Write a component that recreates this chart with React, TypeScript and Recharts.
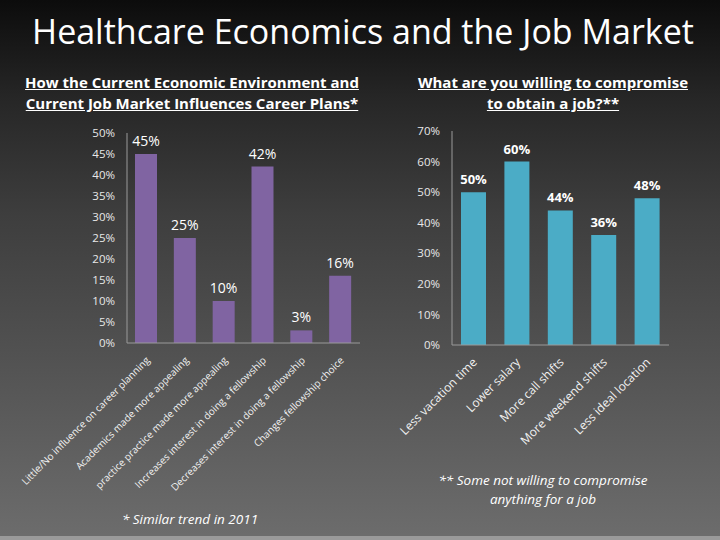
import React from 'react'
import { BarChart, Bar, XAxis, YAxis, LabelList } from 'recharts'

const leftCategories = [
  'Little/No influence on career planning',
  'Academics made more appealing',
  'practice practice made  more appealing',
  'Increases interest in doing a fellowship',
  'Decreases interest in doing a fellowship',
  'Changes fellowship choice',
]
const leftValues = [45, 25, 10, 42, 3, 16]
const leftTicks = [0, 5, 10, 15, 20, 25, 30, 35, 40, 45, 50]

const rightCategories = [
  'Less vacation time',
  'Lower salary',
  'More call shifts',
  'More weekend shifts',
  'Less ideal location',
]
const rightValues = [50, 60, 44, 36, 48]
const rightTicks = [0, 10, 20, 30, 40, 50, 60, 70]

const leftData = leftCategories.map((name, i) => ({ name, value: leftValues[i] }))
const rightData = rightCategories.map((name, i) => ({ name, value: rightValues[i] }))

const font = '"Open Sans", sans-serif'

function AngledTick(props: any) {
  const { x, y, payload, fontSize } = props
  return (
    <text
      x={x + 4}
      y={y + 10}
      transform={`rotate(-45, ${x + 4}, ${y + 10})`}
      textAnchor="end"
      fill="#f2f2f2"
      fontSize={fontSize}
      fontFamily={font}
    >
      {payload.value}
    </text>
  )
}

const pct = (v: number) => `${v}%`

export default function App() {
  return (
    <div
      style={{
        position: 'absolute',
        left: 0,
        top: 0,
        width: 720,
        height: 540,
        overflow: 'hidden',
        background: 'linear-gradient(to bottom, #0c0c0c 0%, #262626 18%, #3e3e3e 40%, #515151 65%, #6c6c6c 99%)',
        fontFamily: font,
        color: '#fff',
      }}
    >
      <div style={{ position: 'absolute', left: 0, bottom: 0, width: 720, height: 4, background: '#9a9a9a' }} />
      <div style={{ position: 'absolute', left: 0, top: 7, width: 726, textAlign: 'center', fontSize: 34, lineHeight: '48px' }}>
        Healthcare Economics and the Job Market
      </div>
      <div
        style={{
          position: 'absolute', left: 2, top: 72, width: 380, textAlign: 'center',
          fontSize: 15, fontWeight: 700, lineHeight: '21px', textDecoration: 'underline',
        }}
      >
        How the Current Economic Environment and
        <br />
        Current Job Market Influences Career Plans*
      </div>
      <div
        style={{
          position: 'absolute', left: 393, top: 72, width: 320, textAlign: 'center',
          fontSize: 15, fontWeight: 700, lineHeight: '21px', textDecoration: 'underline',
        }}
      >
        What are you willing to compromise
        <br />
        to obtain a job?**
      </div>

      <div style={{ position: 'absolute', left: 0, top: 0 }}>
        <BarChart
          width={370}
          height={540}
          data={leftData}
          margin={{ top: 133, right: 10, left: 67, bottom: 47 }}
        >
          <XAxis
            dataKey="name"
            interval={0}
            height={150}
            tickLine={false}
            axisLine={{ stroke: '#9a9a9a' }}
            tick={<AngledTick fontSize={10} />}
          />
          <YAxis
            width={60}
            domain={[0, 50]}
            ticks={leftTicks}
            tickFormatter={pct}
            tickLine={false}
            tickMargin={6}
            axisLine={{ stroke: '#9a9a9a' }}
            tick={{ fill: '#e8e8e8', fontSize: 11.5, fontFamily: font }}
          />
          <Bar dataKey="value" fill="#8064a2" barSize={22} isAnimationActive={false}>
            <LabelList
              dataKey="value"
              position="top"
              offset={8}
              formatter={pct}
              fill="#ffffff"
              fontSize={14}
              fontFamily={font}
            />
          </Bar>
        </BarChart>
      </div>

      <div style={{ position: 'absolute', left: 370, top: 0 }}>
        <BarChart
          width={350}
          height={540}
          data={rightData}
          margin={{ top: 131, right: 51, left: 22, bottom: 45 }}
        >
          <XAxis
            dataKey="name"
            interval={0}
            height={150}
            tickLine={false}
            axisLine={{ stroke: '#9a9a9a' }}
            tick={<AngledTick fontSize={12} />}
          />
          <YAxis
            width={60}
            domain={[0, 70]}
            ticks={rightTicks}
            tickFormatter={pct}
            tickLine={false}
            tickMargin={6}
            axisLine={{ stroke: '#9a9a9a' }}
            tick={{ fill: '#e8e8e8', fontSize: 11.5, fontFamily: font }}
          />
          <Bar dataKey="value" fill="#4bacc6" barSize={25} isAnimationActive={false}>
            <LabelList
              dataKey="value"
              position="top"
              offset={8}
              formatter={pct}
              fill="#ffffff"
              fontSize={13}
              fontWeight={700}
              fontFamily={font}
            />
          </Bar>
        </BarChart>
      </div>

      <div style={{ position: 'absolute', left: 90, top: 510, width: 200, textAlign: 'center', fontSize: 13.5, fontStyle: 'italic' }}>
        * Similar trend in 2011
      </div>
      <div
        style={{
          position: 'absolute', left: 403, top: 471, width: 280, textAlign: 'center',
          fontSize: 13.5, fontStyle: 'italic', lineHeight: '19px',
        }}
      >
        ** Some not willing to compromise
        <br />
        anything for a job
      </div>
    </div>
  )
}
